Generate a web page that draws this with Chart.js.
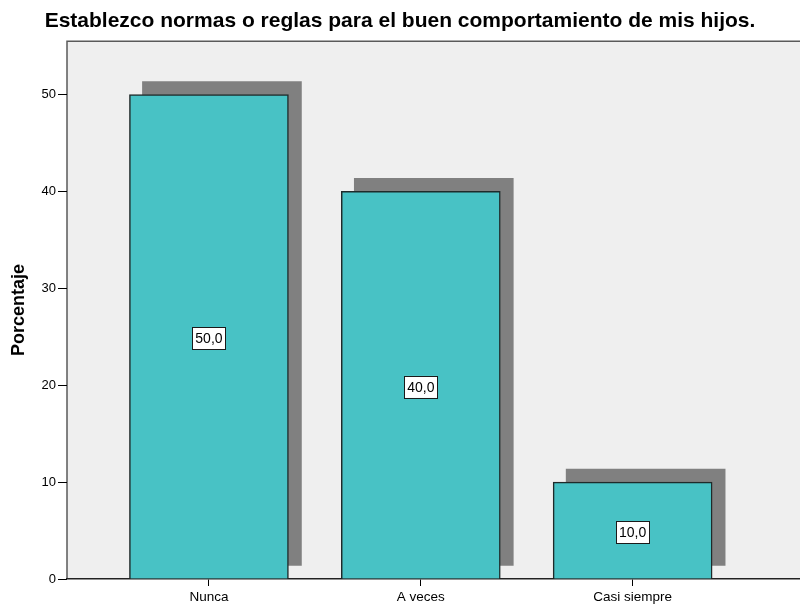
<!DOCTYPE html>
<html lang="es">
<head>
    <meta charset="UTF-8">
    <title>Establezco normas o reglas</title>
    <script src="https://cdn.jsdelivr.net/npm/chart.js"></script>
    <style>
        body {
            margin: 0;
            padding: 0;
            background-color: #fff;
        }
        canvas {
            display: block;
        }
    </style>
</head>
<body>
    <canvas id="barChart" width="800" height="606"></canvas>

    <script>
        // Datos
        const categorias = ['Nunca', 'A veces', 'Casi siempre'];
        const porcentajes = [50.0, 40.0, 10.0];
        const ticksY = [0, 10, 20, 30, 40, 50];

        const puntos = porcentajes.map((v, i) => ({ x: i, y: v }));

        // fondo gris del area y bordes
        const fondoPlugin = {
            id: 'fondo',
            beforeDraw(chart) {
                const { ctx, chartArea: a } = chart;
                ctx.save();
                ctx.fillStyle = '#efefef';
                ctx.fillRect(a.left, a.top, a.right - a.left, a.bottom - a.top);
                ctx.strokeStyle = '#5a5a5a';
                ctx.lineWidth = 1.5;
                ctx.beginPath();
                ctx.moveTo(a.left, a.bottom);
                ctx.lineTo(a.left, a.top);
                ctx.lineTo(a.right, a.top);
                ctx.stroke();
                ctx.restore();
            }
        };

        // sombra desplazada
        const sombraPlugin = {
            id: 'sombra',
            beforeDatasetDraw(chart, args) {
                if (args.index === 1) {
                    chart.ctx.save();
                    chart.ctx.translate(13, -13);
                }
            },
            afterDatasetDraw(chart, args) {
                if (args.index === 1) chart.ctx.restore();
            }
        };

        // etiquetas con valor
        const etiquetasPlugin = {
            id: 'etiquetas',
            afterDatasetsDraw(chart) {
                const { ctx } = chart;
                const meta = chart.getDatasetMeta(0);
                ctx.save();
                ctx.font = '14px Arial, "Liberation Sans", sans-serif';
                ctx.textAlign = 'center';
                ctx.textBaseline = 'middle';
                meta.data.forEach((bar, i) => {
                    const txt = porcentajes[i].toFixed(1).replace('.', ',');
                    const cx = bar.x;
                    const cy = (bar.y + bar.base) / 2 + 2;
                    const w = ctx.measureText(txt).width + 6;
                    const h = 22;
                    ctx.fillStyle = '#fff';
                    ctx.fillRect(cx - w / 2, cy - h / 2, w, h);
                    ctx.strokeStyle = '#1a1a1a';
                    ctx.lineWidth = 1;
                    ctx.strokeRect(Math.round(cx - w / 2) + 0.5, Math.round(cy - h / 2) + 0.5, Math.round(w), h);
                    ctx.fillStyle = '#000';
                    ctx.fillText(txt, cx, cy + 1);
                });
                ctx.restore();
            }
        };

        const ctx = document.getElementById('barChart').getContext('2d');
        new Chart(ctx, {
            type: 'bar',
            data: {
                datasets: [{
                    label: 'Porcentaje',
                    data: puntos,
                    backgroundColor: '#48c2c5',
                    borderColor: '#1f2a2a',
                    borderWidth: 1.5,
                    barThickness: 159,
                    grouped: false
                }, {
                    label: 'sombra',
                    data: puntos,
                    backgroundColor: '#808080',
                    borderWidth: 0,
                    barThickness: 159,
                    grouped: false
                }]
            },
            options: {
                responsive: false,
                animation: false,
                maintainAspectRatio: false,
                devicePixelRatio: 1,
                layout: { padding: { top: 0, right: 0, bottom: 0, left: 0 } },
                plugins: {
                    legend: { display: false },
                    tooltip: { enabled: false },
                    title: {
                        display: true,
                        text: 'Establezco normas o reglas para el buen comportamiento de mis hijos.',
                        color: '#000',
                        font: { family: 'Arial, "Liberation Sans", sans-serif', size: 21, weight: 'bold' },
                        padding: { top: 9, bottom: 7 }
                    }
                },
                scales: {
                    x: {
                        type: 'linear',
                        min: -0.67,
                        max: 2.79,
                        offset: false,
                        afterBuildTicks(scale) {
                            scale.ticks = categorias.map((c, i) => ({ value: i }));
                        },
                        afterFit(scale) { scale.height = 27; },
                        grid: {
                            display: true,
                            offset: false,
                            drawOnChartArea: false,
                            drawTicks: true,
                            tickLength: 7,
                            color: '#000'
                        },
                        border: { display: true, color: '#222', width: 1.5 },
                        ticks: {
                            color: '#000',
                            padding: 3,
                            maxRotation: 0,
                            autoSkip: false,
                            font: { family: 'Arial, "Liberation Sans", sans-serif', size: 13.5 },
                            callback: (v) => categorias[v]
                        }
                    },
                    y: {
                        min: 0,
                        max: 55.5,
                        afterBuildTicks(scale) {
                            scale.ticks = ticksY.map(v => ({ value: v }));
                        },
                        afterFit(scale) { scale.width = 67; },
                        grid: {
                            display: true,
                            drawOnChartArea: false,
                            drawTicks: true,
                            tickLength: 9,
                            color: '#000'
                        },
                        border: { display: false },
                        title: {
                            display: true,
                            text: 'Porcentaje',
                            color: '#000',
                            font: { family: 'Arial, "Liberation Sans", sans-serif', size: 18, weight: 'bold' },
                            padding: { top: 8, bottom: 0 }
                        },
                        ticks: {
                            color: '#000',
                            padding: 2,
                            autoSkip: false,
                            font: { family: 'Arial, "Liberation Sans", sans-serif', size: 13 }
                        }
                    }
                }
            },
            plugins: [fondoPlugin, sombraPlugin, etiquetasPlugin]
        });
    </script>
</body>
</html>
